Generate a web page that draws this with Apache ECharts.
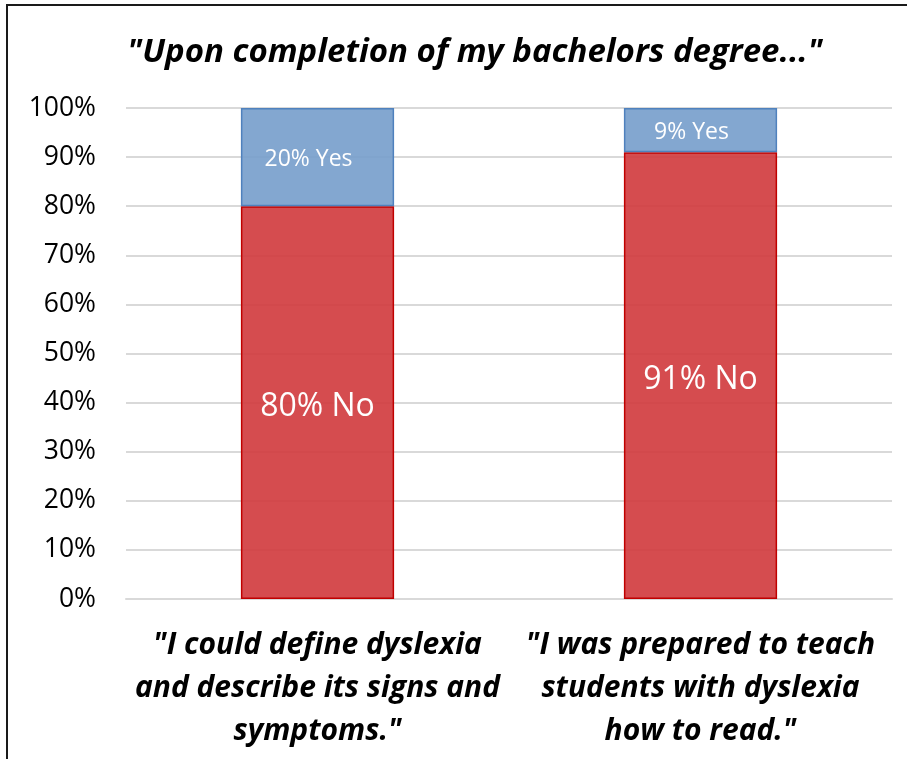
<!DOCTYPE html>
<html>
<head>
<meta charset="utf-8">
<script src="https://cdn.jsdelivr.net/npm/echarts@6/dist/echarts.min.js"></script>
<style>
html,body{margin:0;padding:0;background:#fff;}
#wrap{position:relative;width:907px;height:759px;overflow:hidden;}
#chart{position:absolute;left:0;top:0;width:907px;height:759px;}
#frame{position:absolute;left:6px;top:4px;width:1000px;height:1000px;border-left:2px solid #1a1a1a;border-top:2px solid #1a1a1a;pointer-events:none;}
</style>
</head>
<body>
<div id="wrap"><div id="chart"></div><div id="frame"></div></div>
<script>
const titleText = '"Upon completion of my bachelors degree..."';
const categories = [
  '"I could define dyslexia\nand describe its signs and\nsymptoms."',
  '"I was prepared to teach\nstudents with dyslexia\nhow to read."'
];
const noValues = [80, 91];
const yesValues = [20, 9];
const yTicks = { min: 0, max: 100, interval: 10 };

const chart = echarts.init(document.getElementById('chart'));
const FONT = 'Open Sans';
chart.setOption({
  animation: false,
  title: {
    text: titleText,
    left: 470,
    top: 31,
    textAlign: 'center',
    textStyle: { fontFamily: FONT, fontSize: 33, fontWeight: 'bold', fontStyle: 'italic', color: '#000' }
  },
  grid: { left: 126, right: 15, top: 108, bottom: 160 },
  xAxis: {
    type: 'category',
    data: categories,
    axisLine: { lineStyle: { color: '#d9d9d9', width: 2 } },
    axisTick: { show: false },
    axisLabel: {
      interval: 0, margin: 25, lineHeight: 43,
      fontFamily: FONT, fontSize: 30, fontWeight: 'bold', fontStyle: 'italic', color: '#000'
    }
  },
  yAxis: {
    type: 'value',
    min: yTicks.min, max: yTicks.max, interval: yTicks.interval,
    axisLine: { show: false },
    axisTick: { show: false },
    splitLine: { lineStyle: { color: '#d9d9d9', width: 2 } },
    axisLabel: { formatter: '{value}%', margin: 30, fontFamily: FONT, fontSize: 26.5, color: '#000' }
  },
  series: [
    {
      name: 'No', type: 'bar', stack: 'total', data: noValues, barWidth: '40%',
      itemStyle: { color: 'rgba(208,57,60,0.9)', borderColor: '#c00000', borderWidth: 1.5 },
      label: { show: true, position: 'inside', offset: [0, 4], formatter: '{c}% No', fontFamily: FONT, fontSize: 32, color: '#fff' }
    },
    {
      name: 'Yes', type: 'bar', stack: 'total', data: yesValues, barWidth: '40%',
      itemStyle: { color: 'rgba(118,157,203,0.9)', borderColor: '#4f81bd', borderWidth: 1.5 },
      label: { show: true, position: 'inside', offset: [-9, 2], formatter: '{c}% Yes', fontFamily: FONT, fontSize: 23, color: '#fff' }
    }
  ]
});
</script>
</body>
</html>
